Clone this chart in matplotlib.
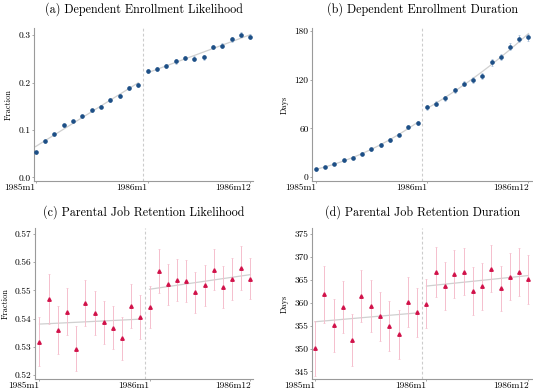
import matplotlib
matplotlib.use("Agg")
import matplotlib.pyplot as plt
import numpy as np
from matplotlib.ticker import FormatStrFormatter

plt.rcParams['font.family'] = ['cmr10', 'DejaVu Serif']
plt.rcParams['axes.formatter.use_mathtext'] = True
plt.rcParams['mathtext.fontset'] = 'cm'

# months 1985m1 .. 1986m12
months = np.arange(24)
cutoff = 11.5
tick_pos = [0, 12, 23]
tick_labels = ["1985m1", "1986m1", "1986m12"]

enroll_frac = [0.053, 0.076, 0.091, 0.110, 0.119, 0.129, 0.141, 0.149, 0.163, 0.172, 0.189, 0.194,
               0.224, 0.228, 0.235, 0.245, 0.252, 0.250, 0.253, 0.275, 0.278, 0.291, 0.301, 0.297]
enroll_frac_ci = [0.003, 0.003, 0.003, 0.003, 0.003, 0.003, 0.003, 0.003, 0.004, 0.004, 0.004, 0.004,
                  0.004, 0.004, 0.004, 0.005, 0.005, 0.005, 0.005, 0.005, 0.005, 0.005, 0.006, 0.006]

enroll_days = [9.4, 12.7, 16.0, 20.5, 24.1, 29.0, 34.4, 39.7, 45.8, 52.4, 61.8, 66.7,
               85.9, 90.4, 97.4, 106.8, 115.4, 119.9, 124.4, 141.6, 148.1, 160.8, 170.6, 172.3]
enroll_days_ci = [1.5, 1.5, 1.5, 1.5, 1.8, 1.8, 2.0, 2.0, 2.2, 2.2, 2.5, 2.5,
                  3.0, 3.0, 3.2, 3.2, 3.5, 3.5, 3.8, 4.0, 4.0, 4.5, 4.5, 4.5]

retain_frac = [0.5318, 0.5470, 0.5359, 0.5424, 0.5293, 0.5455, 0.5419, 0.5386, 0.5368, 0.5329, 0.5443, 0.5404,
               0.5441, 0.5569, 0.5521, 0.5538, 0.5534, 0.5493, 0.5518, 0.5574, 0.5511, 0.5541, 0.5579, 0.5542]
retain_frac_ci = [0.0086, 0.0088, 0.0084, 0.0084, 0.0080, 0.0082, 0.0078, 0.0078, 0.0076, 0.0076, 0.0078, 0.0078,
                  0.0075, 0.0077, 0.0074, 0.0074, 0.0074, 0.0074, 0.0074, 0.0072, 0.0074, 0.0074, 0.0078, 0.0074]

retain_days = [350.1, 361.8, 355.1, 359.0, 351.9, 361.4, 359.3, 357.0, 354.9, 353.1, 360.2, 357.9,
               359.8, 366.7, 363.7, 366.2, 366.8, 362.5, 363.6, 367.4, 363.1, 365.7, 366.7, 365.1]
retain_days_ci = [6.0, 6.2, 5.8, 5.7, 5.6, 5.7, 5.6, 5.4, 5.4, 5.3, 5.5, 5.3,
                  5.3, 5.4, 5.2, 5.2, 5.2, 5.2, 5.1, 5.1, 5.0, 5.1, 5.3, 5.3]

BLUE = '#1d4f86'
BLUE_ERR = '#a8bfd8'
RED = '#d1124a'
RED_ERR = '#f5bfcd'
FIT = '#d0d0d0'
SPINE = '#9a9a9a'

fig = plt.figure(figsize=(5.33, 3.91), dpi=100)

panels = [
    dict(rect=[0.064, 0.537, 0.411, 0.391], title="(a) Dependent Enrollment Likelihood", y=enroll_frac,
         ci=enroll_frac_ci, color=BLUE, ecolor=BLUE_ERR, marker='o', deg=1, ylabel="Fraction",
         ylim=(-0.0078, 0.3147), yticks=[0.0, 0.1, 0.2, 0.3], fmt='%.1f', xlim=(-0.15, 23.3), pad=11),
    dict(rect=[0.5854, 0.537, 0.413, 0.391], title="(b) Dependent Enrollment Duration", y=enroll_days,
         ci=enroll_days_ci, color=BLUE, ecolor=BLUE_ERR, marker='o', deg=2, ylabel="Days",
         ylim=(-4.9, 183.7), yticks=[0, 60, 120, 180], fmt='%d', xlim=(-0.43, 23.4), pad=11),
    dict(rect=[0.066, 0.030, 0.409, 0.387], title="(c) Parental Job Retention Likelihood", y=retain_frac,
         ci=retain_frac_ci, color=RED, ecolor=RED_ERR, marker='^', deg=1, ylabel="Fraction",
         ylim=(0.5184, 0.5722), yticks=[0.52, 0.53, 0.54, 0.55, 0.56, 0.57], fmt='%.2f', xlim=(-0.47, 23.3), pad=9),
    dict(rect=[0.5854, 0.030, 0.413, 0.387], title="(d) Parental Job Retention Duration", y=retain_days,
         ci=retain_days_ci, color=RED, ecolor=RED_ERR, marker='^', deg=1, ylabel="Days",
         ylim=(343.3, 376.3), yticks=[345, 350, 355, 360, 365, 370, 375], fmt='%d', xlim=(-0.33, 23.4), pad=9),
]

for p in panels:
    ax = fig.add_axes(p['rect'])
    y = np.array(p['y'])
    ax.axvline(cutoff, color='#cccccc', lw=0.8, ls=(0, (2.5, 2)), zorder=1)
    pre = months < cutoff
    for mask in [pre, ~pre]:
        coef = np.polyfit(months[mask], y[mask], p['deg'])
        xs = np.linspace(months[mask][0], months[mask][-1], 50)
        ax.plot(xs, np.polyval(coef, xs), color=FIT, lw=0.9, zorder=2)
    ax.errorbar(months, y, yerr=p['ci'], fmt='none', ecolor=p['ecolor'], elinewidth=0.7,
                capsize=1.0, capthick=0.5, zorder=3)
    ms = 2.3 if p['marker'] == 'o' else 2.5
    ax.plot(months, y, ls='none', marker=p['marker'], ms=ms, color=p['color'], mec=p['color'], zorder=4)

    ax.set_xlim(*p['xlim'])
    ax.set_ylim(*p['ylim'])
    ax.set_yticks(p['yticks'])
    ax.yaxis.set_major_formatter(FormatStrFormatter(p['fmt']))
    ax.set_xticks(tick_pos)
    ax.set_xticklabels(tick_labels, ha='right')
    ax.tick_params(axis='both', labelsize=6.8, length=1.5, width=0.6, color=SPINE, pad=1)
    ax.tick_params(axis='x', pad=0.2)
    for s in ['top', 'right']:
        ax.spines[s].set_visible(False)
    for s in ['left', 'bottom']:
        ax.spines[s].set_color(SPINE)
        ax.spines[s].set_linewidth(0.8)
    ax.set_ylabel(p['ylabel'], fontsize=6, labelpad=4)
    ax.set_title(p['title'], fontsize=8.7, pad=p['pad'])

fig.savefig("out.png", dpi=100)
